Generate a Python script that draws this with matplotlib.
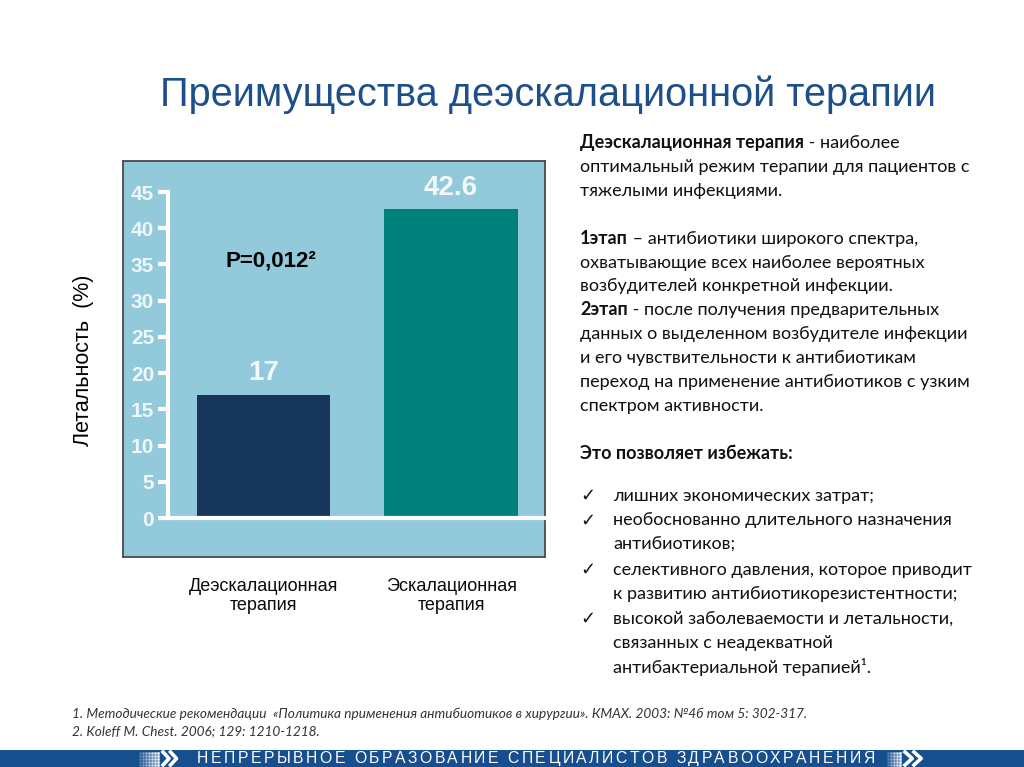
import matplotlib
matplotlib.use("Agg")
import matplotlib.pyplot as plt
from matplotlib.lines import Line2D

# ---------------- data ----------------
categories = ["Деэскалационная\nтерапия", "Эскалационная\nтерапия"]
values = [17, 42.6]
value_labels = ["17", "42.6"]
yticks = [0, 5, 10, 15, 20, 25, 30, 35, 40, 45]
bar_colors = ["#17365c", "#00807a"]
title = "Преимущества деэскалационной терапии"
ylabel = "Летальность  (%)"
p_text = "P=0,012²"

right_lines = [
    [("Деэскалационная терапия", True), (" - наиболее", False)],
    [("оптимальный режим терапии для пациентов с", False)],
    [("тяжелыми инфекциями.", False)],
    None,
    [("1этап", True), (" – антибиотики широкого спектра,", False)],
    [("охватывающие всех наиболее вероятных", False)],
    [("возбудителей конкретной инфекции.", False)],
    [("2этап", True), (" - после получения предварительных", False)],
    [("данных о выделенном возбудителе инфекции", False)],
    [("и его чувствительности к антибиотикам", False)],
    [("переход на применение антибиотиков с узким", False)],
    [("спектром активности.", False)],
    None,
    [("Это позволяет избежать:", True)],
]
bullets = [
    ["лишних экономических затрат;"],
    ["необоснованно длительного назначения", "антибиотиков;"],
    ["селективного давления, которое приводит", "к развитию антибиотикорезистентности;"],
    ["высокой заболеваемости и летальности,", "связанных с неадекватной", "антибактериальной терапией¹."],
]
footnotes = [
    "1. Методические рекомендации  «Политика применения антибиотиков в хирургии». КМАХ. 2003: №4б том 5: 302-317.",
    "2. Koleff M. Chest. 2006; 129: 1210-1218.",
]
footer_text = "НЕПРЕРЫВНОЕ ОБРАЗОВАНИЕ СПЕЦИАЛИСТОВ ЗДРАВООХРАНЕНИЯ"

# ---------------- figure ----------------
W, H = 1024, 767
fig = plt.figure(figsize=(W / 100, H / 100), dpi=100)
fig.patch.set_facecolor("white")

def fx(px):
    return px / W

def fy(py):
    return 1 - py / H

SANS = ["Liberation Sans", "DejaVu Sans"]
BODY = ["Lato", "DejaVu Sans"]
TXT = "#111111"

# chart box
box = fig.add_axes([fx(123), fy(557), fx(545) - fx(123), fy(161) - fy(557)])
box.set_facecolor("#92c9db")
box.set_xticks([]); box.set_yticks([])
for s in box.spines.values():
    s.set_color("#4a4a4a"); s.set_linewidth(1.3)

# data axes
ax = fig.add_axes([fx(168), fy(518), fx(545) - fx(168), fy(192) - fy(518)])
ax.patch.set_alpha(0)
x = [0, 1]
ax.bar(x, values, width=0.71, color=bar_colors, zorder=2)
ax.set_xlim(-0.509, 1.501)
ax.set_ylim(0, 45)
ax.set_yticks(yticks)
ax.set_yticklabels([str(t) for t in yticks])
ax.set_xticks([])
for s in ["top", "right"]:
    ax.spines[s].set_visible(False)
ax.spines["left"].set_color("white"); ax.spines["left"].set_linewidth(3)
ax.spines["bottom"].set_color("white"); ax.spines["bottom"].set_linewidth(3)
ax.tick_params(axis="y", colors="white", width=3, length=7, pad=3)
for lbl in ax.get_yticklabels():
    lbl.set_fontfamily(SANS); lbl.set_fontweight("bold"); lbl.set_fontsize(15)
    lbl.set_color("#eef7fa")

for xi, v, lab in zip(x, values, value_labels):
    ax.text(xi, v + 1.2, lab, ha="center", va="bottom", color="#f2f9fb",
            fontsize=20, fontweight="bold", family=SANS, clip_on=False)

ax.text(0.04, 35.5, p_text, ha="center", va="center", fontsize=16,
        fontweight="bold", family=SANS, color="black")

# category labels
for xi, cat in zip(x, categories):
    xp = ax.transData.transform((xi, 0))[0]
    fig.text(xp / W, fy(596), cat, ha="center", va="center", fontsize=13,
             family=SANS, color="#0a0a0a", linespacing=1.2)

# y label
fig.text(fx(83), fy(360), ylabel, rotation=90, ha="center", va="center",
         fontsize=15.5, family=SANS, color="black")

# title
fig.text(fx(548), fy(95), title, ha="center", va="center", fontsize=28.6,
         family=SANS, color="#1d4f8a")

# right text block
renderer = fig.canvas.get_renderer()
FS = 13

def draw_runs(px, baseline, runs):
    cur = px
    for txt, bold in runs:
        t = fig.text(fx(cur), fy(baseline), txt, ha="left", va="baseline",
                     fontsize=FS, family=BODY,
                     fontweight="bold" if bold else "normal", color=TXT)
        bb = t.get_window_extent(renderer)
        cur += bb.width

y0 = 148
step = 23.9
for row, line in enumerate(right_lines):
    if line is not None:
        draw_runs(580, y0 + row * step, line)

yb = 501
bstep = 24.5
for item in bullets:
    for j, l in enumerate(item):
        if j == 0:
            fig.text(fx(580), fy(yb), "✓", ha="left", va="baseline",
                     fontsize=13, family=["DejaVu Sans"], color=TXT)
        fig.text(fx(613), fy(yb), l, ha="left", va="baseline", fontsize=FS,
                 family=BODY, color=TXT)
        yb += bstep

# footnotes
for i, f in enumerate(footnotes):
    fig.text(fx(72), fy(718 + i * 17), f, ha="left", va="baseline",
             fontsize=9.8, family=BODY, style="italic", color="#333333")

# footer band
band = fig.add_axes([0, 0, 1, (H - 750) / H])
band.set_facecolor("#174f8e")
band.set_xticks([]); band.set_yticks([])
for s in band.spines.values():
    s.set_visible(False)

# letter-spaced footer text
fsz = 11.3
cur = 197
track = 2.5
for ch in footer_text:
    t = fig.text(fx(cur), fy(763), ch, ha="left", va="baseline", fontsize=fsz,
                 family=SANS, color="white")
    cur += t.get_window_extent(renderer).width + track

# chevrons
def chevrons(x0, size):
    for k in range(2):
        xs = x0 + k * size * 0.75
        fig.add_artist(Line2D([fx(xs), fx(xs + size * 0.6), fx(xs)],
                              [fy(752), fy(758.5), fy(765)],
                              color="white", lw=2.6, transform=fig.transFigure))

def dots(x0, x1):
    xs_ = [x0 + i * 3 for i in range(int((x1 - x0) / 3))]
    for i, xx in enumerate(xs_):
        for yy in (753, 756, 759, 762, 765):
            a = 0.15 + 0.6 * i / max(len(xs_) - 1, 1)
            fig.add_artist(Line2D([fx(xx)], [fy(yy)], marker="o", ms=1.3,
                                  color="white", alpha=a, lw=0,
                                  transform=fig.transFigure))

dots(140, 162)
chevrons(163, 10)
dots(888, 903)
chevrons(905, 12)

fig.savefig("out.png", dpi=100, facecolor="white")
